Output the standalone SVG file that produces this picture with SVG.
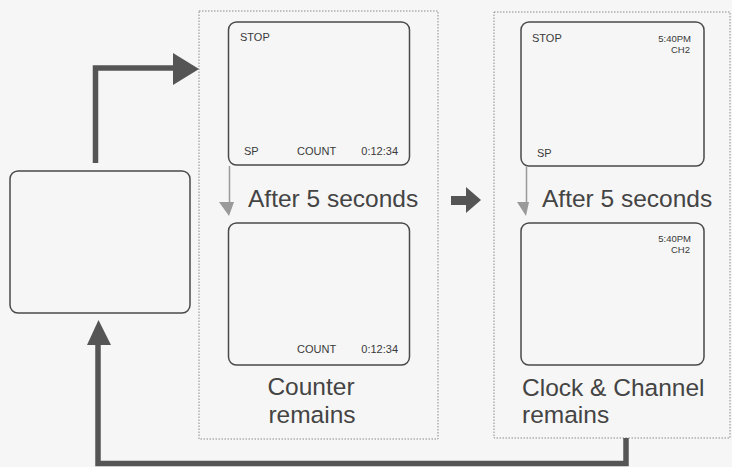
<svg xmlns="http://www.w3.org/2000/svg" width="732" height="467" viewBox="0 0 732 467">
<style>
.bg{fill:#f6f6f6}
.dot{fill:none;stroke:#8a8a8a;stroke-width:1;stroke-dasharray:1.5 1.5}
.scr{fill:none;stroke:#4a4a4a;stroke-width:1.5}
.small{font-family:"Liberation Sans",Arial,sans-serif;font-size:11px;fill:#3a3a3a}
.tiny{font-family:"Liberation Sans",Arial,sans-serif;font-size:9.5px;fill:#3a3a3a}
.big{font-family:"Liberation Sans",Arial,sans-serif;font-size:24.5px;fill:#444}
.thick{fill:none;stroke:#555;stroke-width:5.5}
.head{fill:#555}
.thin{stroke:#9a9a9a;stroke-width:1.5;fill:none}
.thinhead{fill:#9a9a9a}
</style>
<rect class="bg" x="0" y="0" width="732" height="467"/>

<g id="start-screen">
<rect class="scr" x="10" y="171" width="180" height="142" rx="8"/>
</g>

<g id="panel-counter">
<rect class="dot" x="199" y="11" width="239" height="428"/>
</g>
<g id="panel-clock">
<rect class="dot" x="494" y="12" width="236" height="426"/>
</g>

<g id="screen-stop-count">
<rect class="scr" x="228.5" y="22" width="181" height="143" rx="8"/>
<text class="small" x="240" y="41">STOP</text>
<text class="small" x="244" y="155">SP</text>
<text class="small" x="297" y="155">COUNT</text>
<text class="small" x="398" y="155" text-anchor="end">0:12:34</text>
</g>

<g id="label-after-1">
<text class="big" x="248" y="207">After 5 seconds</text>
</g>

<g id="screen-count">
<rect class="scr" x="228.5" y="223" width="181" height="142" rx="8"/>
<text class="small" x="297" y="353">COUNT</text>
<text class="small" x="398" y="353" text-anchor="end">0:12:34</text>
</g>

<g id="label-counter">
<text class="big" x="311" y="395" text-anchor="middle">Counter</text>
<text class="big" x="312" y="423" text-anchor="middle">remains</text>
</g>

<g id="screen-stop-clock">
<rect class="scr" x="521" y="22" width="183" height="144" rx="8"/>
<text class="small" x="532" y="42">STOP</text>
<text class="tiny" x="691" y="41.5" text-anchor="end">5:40PM</text>
<text class="tiny" x="690" y="52.5" text-anchor="end">CH2</text>
<text class="small" x="537" y="157">SP</text>
</g>

<g id="label-after-2">
<text class="big" x="542" y="207">After 5 seconds</text>
</g>

<g id="screen-clock">
<rect class="scr" x="521" y="223" width="183" height="142" rx="8"/>
<text class="tiny" x="691" y="241.5" text-anchor="end">5:40PM</text>
<text class="tiny" x="690" y="252.5" text-anchor="end">CH2</text>
</g>

<g id="label-clock">
<text class="big" x="522" y="396">Clock &amp; Channel</text>
<text class="big" x="522" y="423">remains</text>
</g>

<g id="connectors">
<polyline class="thick" points="95.5,163 95.5,68 174,68"/>
<polygon class="head" points="173,53 199,69 173,85"/>
<rect class="head" x="451" y="196" width="16" height="9"/>
<polygon class="head" points="466,187 481,200 466,213"/>
<polyline class="thick" points="626,438 626,463.5 98,463.5 98,344"/>
<polygon class="head" points="87,345 98.5,320 111,345"/>
<line class="thin" x1="229.5" y1="166" x2="229.5" y2="206"/>
<polygon class="thinhead" points="219,202 234,202 229,216"/>
<line class="thin" x1="526.5" y1="167" x2="526.5" y2="206"/>
<polygon class="thinhead" points="517,202 529,202 526,216"/>
</g>
</svg>
